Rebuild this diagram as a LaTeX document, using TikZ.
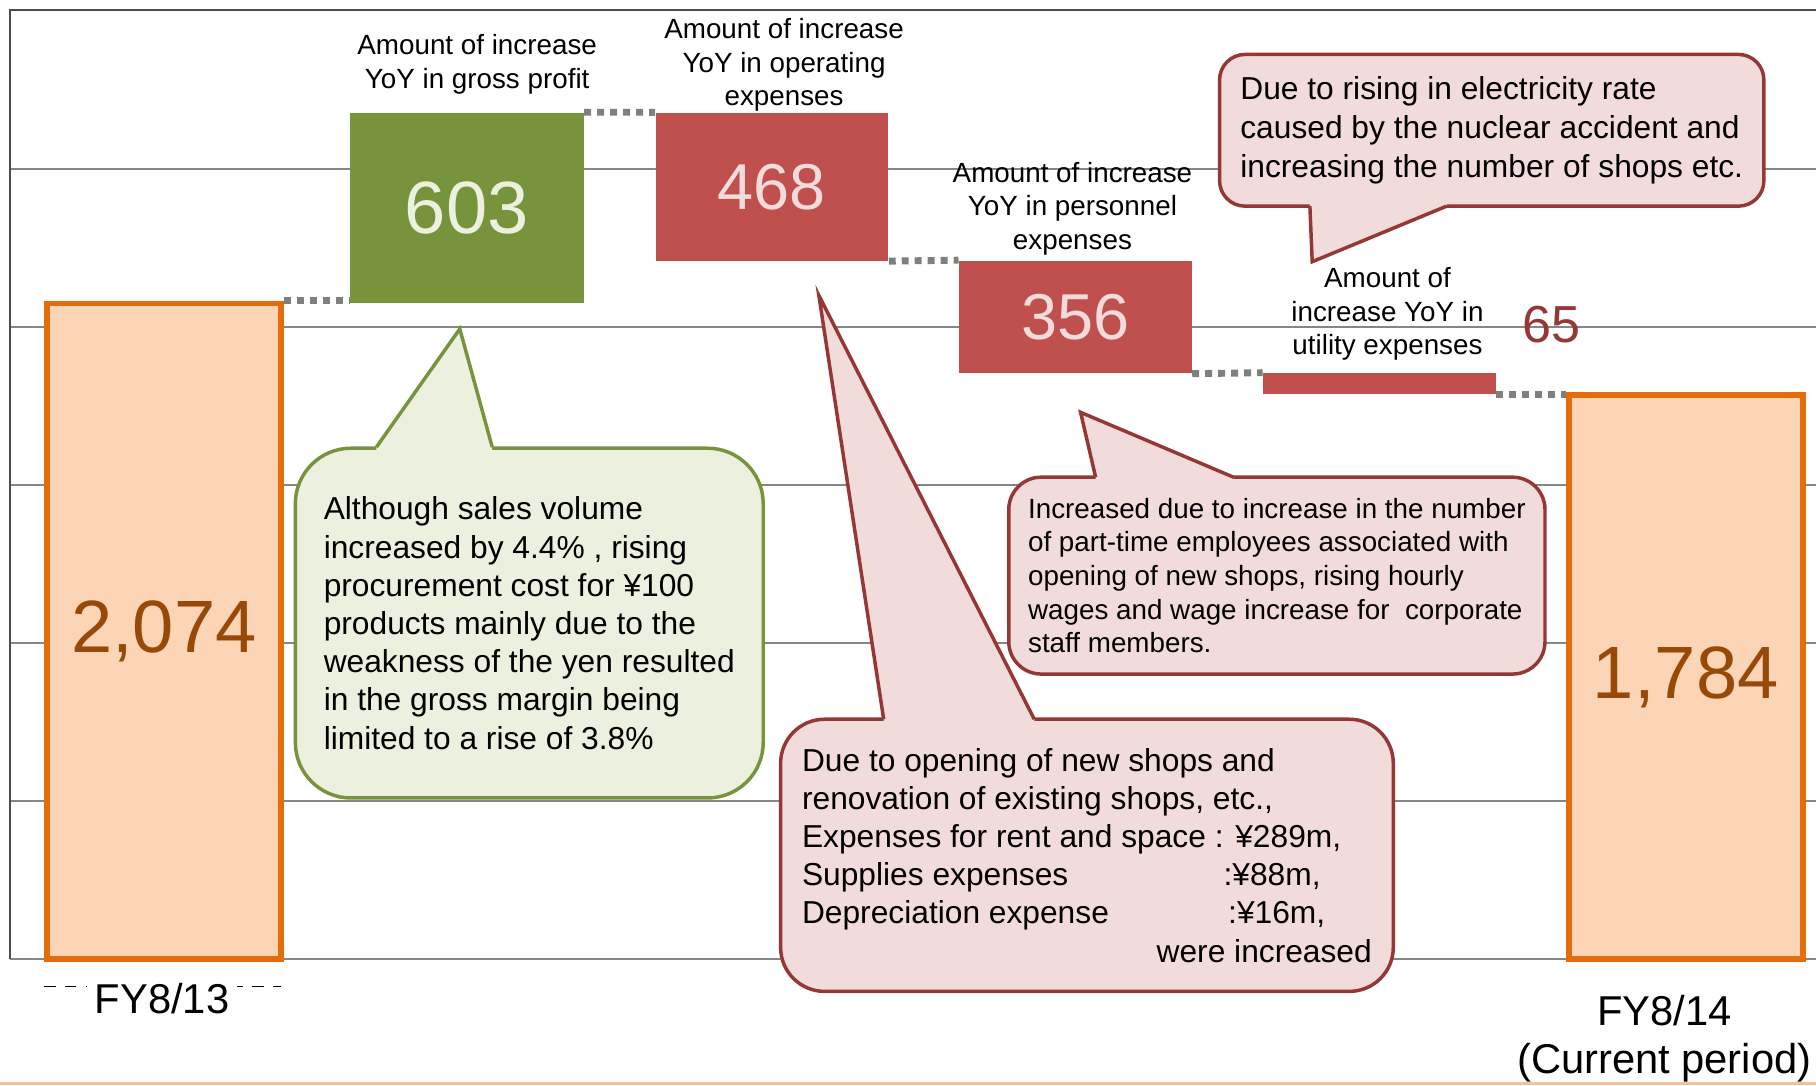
\documentclass[tikz,border=0pt]{standalone}
\usepackage{fontspec}
\setmainfont{Liberation Sans}
\definecolor{totfill}{HTML}{FBD5B5}
\definecolor{totline}{HTML}{E46C0A}
\definecolor{totnum}{HTML}{984807}
\definecolor{gpgreen}{HTML}{77933C}
\definecolor{gppale}{HTML}{EBF1DE}
\definecolor{brick}{HTML}{C0504D}
\definecolor{brickpale}{HTML}{F2DCDB}
\definecolor{brickdark}{HTML}{953735}
\definecolor{gridgray}{HTML}{868686}
\definecolor{framegray}{HTML}{4D4D4D}
\definecolor{dotgray}{HTML}{7F7F7F}
\definecolor{footline}{HTML}{FAC090}
\tikzset{
  total/.style={draw=totline, fill=totfill, line width=2.5pt, minimum width=101pt, inner sep=0pt, text=totnum, font=\fontsize{32}{38}\selectfont},
  rise/.style={fill=gpgreen, minimum width=101pt, inner sep=0pt, text=gppale, font=\fontsize{32}{38}\selectfont},
  fall/.style={fill=brick, minimum width=100.5pt, inner sep=0pt, text=brickpale, font=\fontsize{28}{34}\selectfont},
  link/.style={dotgray, line width=3pt, dash pattern=on 3pt off 2.6pt},
  gridline/.style={gridgray, line width=0.75pt},
  barlabel/.style={align=center, font=\fontsize{12}{14.5}\selectfont},
  greennote/.style={draw=gpgreen, fill=gppale, line width=1.5pt, align=left, inner sep=0pt},
  rednote/.style={draw=brickdark, fill=brickpale, line width=1.5pt, align=left, inner sep=0pt},
}

\begin{document}
\begin{tikzpicture}[x=0.5pt,y=-0.5pt]
      \useasboundingbox (0,0) rectangle (1568,937);
      \foreach \v in {1,...,5}
        \draw[gridline] (9,{828-136.47*\v}) -- (1568,{828-136.47*\v});
      \draw[gridline] (9,828) -- (1568,828);
      \draw[framegray, line width=0.8pt] (9,828) -- (9,9) -- (1568,9);
      \draw[footline, line width=1.5pt] (0,935.5) -- (1568,935.5);

      \node[total, minimum height=283pt] (fy13) at (141.5,545) {2,074};
      \node[rise, minimum height=82.3pt] (gp) at (403,179.6) {603};
      \node[fall, minimum height=63.85pt] (op) at (666.5,161.2) {468};
      \node[fall, minimum height=48.6pt] (pe) at (928.5,273.65) {356};
      \node[fall, minimum height=8.9pt] (ut) at (1191,331.1) {};
      \node[total, minimum height=243.5pt] (fy14) at (1455.5,584.5) {1,784};

      \draw[link] (fy13.north east) -- (fy13.north east -| gp.west);
      \draw[link] (gp.north east) -- (op.north west);
      \draw[link] (op.south east) -- (pe.north west);
      \draw[link] (pe.south east) -- (ut.north west);
      \draw[link] (ut.south east) -- (ut.south east -| fy14.west);

      \node[barlabel] (gplab) at (412,55.5) {Amount of increase\\YoY in gross profit};
      \node[barlabel] (oplab) at (677,56) {Amount of increase\\YoY in operating\\expenses};
      \node[barlabel] (pelab) at (926,180) {Amount of increase\\YoY in personnel\\expenses};
      \node[barlabel] (utlab) at (1198,271) {Amount of\\increase YoY in\\utility expenses};
      \node[text=brickdark, font=\fontsize{22.5}{26}\selectfont] (utval) at (1340,280) {65};
      \draw[dash pattern=on 5pt off 4pt, thin] (38,852) -- (243,852);
      \node[fill=white, font=\fontsize{18}{21}\selectfont] (fy13lab) at (140,862) {FY8/13};
      \node[align=center, font=\fontsize{18}{21}\selectfont] (fy14lab) at (1437,897) {FY8/14\\(Current period)};

      \coordinate (gptip) at (397,284);
      \node[greennote, rounded corners=24pt, minimum width=202pt, minimum height=151pt, font=\fontsize{13.7}{16.5}\selectfont] (gpnote) at (457,538) {Although sales volume\\increased by 4.4\% , rising\\procurement cost for ¥100\\products mainly due to the\\weakness of the yen resulted\\in the gross margin being\\limited to a rise of 3.8\%};
      \fill[gppale] (325,390) -- (325,386) -- (gptip) -- (425,386) -- (425,390) -- cycle;
      \draw[gpgreen, line width=1.5pt] (325,386) -- (gptip) -- (425,386);

      \coordinate (optip) at (707,255);
      \node[rednote, rounded corners=19pt, minimum width=264.5pt, minimum height=117.5pt, font=\fontsize{13.7}{16.5}\selectfont] (opnote) at (938.5,738.5) {Due to opening of new shops and\\renovation of existing shops, etc.,\\Expenses for rent and space : ¥289m,\\\makebox[182pt][l]{Supplies expenses}:¥88m,\\\makebox[184pt][l]{Depreciation expense}:¥16m,\\\makebox[246pt][r]{were increased}};
      \fill[brickpale] (763,625) -- (763,621) -- (optip) -- (893,621) -- (893,625) -- cycle;
      \draw[brickdark, line width=1.5pt] (763,621) -- (optip) -- (893,621);

      \coordinate (petip) at (933,356);
      \node[rednote, rounded corners=14pt, minimum width=231.5pt, minimum height=85pt, font=\fontsize{12}{14.5}\selectfont] (penote) at (1102.5,497) {Increased due to increase in the number\\of part-time employees associated with\\opening of new shops, rising hourly\\wages and wage increase for~ corporate\\staff members.};
      \fill[brickpale] (946,416) -- (946,412) -- (petip) -- (1065,412) -- (1065,416) -- cycle;
      \draw[brickdark, line width=1.5pt] (946,412) -- (petip) -- (1065,412);

      \coordinate (uttip) at (1133,226);
      \node[rednote, rounded corners=11pt, minimum width=235pt, minimum height=65.5pt, font=\fontsize{13.7}{16.75}\selectfont] (utnote) at (1288,112.5) {Due to rising in electricity rate\\caused by the nuclear accident and\\increasing the number of shops etc.};
      \fill[brickpale] (1131,174) -- (1131,178) -- (uttip) -- (1249,178) -- (1249,174) -- cycle;
      \draw[brickdark, line width=1.5pt] (1131,178) -- (uttip) -- (1249,178);
\end{tikzpicture}
\end{document}
